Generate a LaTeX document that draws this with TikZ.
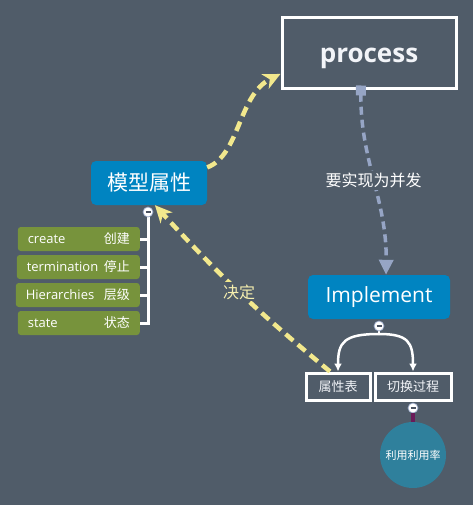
\documentclass[tikz,border=0pt]{standalone}
\usepackage{fontspec}
\setmainfont{Open Sans}
\newfontfamily\cjk{Noto Sans CJK SC}
\usetikzlibrary{arrows.meta,positioning,calc}
\definecolor{bg}{HTML}{505C69}
\definecolor{topic}{HTML}{0084C1}
\definecolor{leaf}{HTML}{77933C}
\definecolor{rate}{HTML}{2F809C}
\definecolor{ylw}{HTML}{F2E88D}
\definecolor{slate}{HTML}{96A5C5}
\definecolor{plum}{HTML}{6A1B5A}
\definecolor{txt}{HTML}{F2F4F8}

\begin{document}
\begin{tikzpicture}[x=1pt,y=-1pt,>=Latex,
  topicbox/.style={rounded corners=5pt,fill=topic,text=white,minimum height=44pt,inner sep=0pt},
  framebox/.style={draw=white,line width=3pt,text=txt,inner sep=0pt},
  itembox/.style={rounded corners=3pt,fill=leaf,text=white,minimum height=24pt,inner sep=0pt,anchor=east,font=\fontsize{13}{15}\selectfont},
  fold/.style={circle,draw=slate,fill=white,line width=.7pt,minimum size=10pt,inner sep=0pt},
  tree/.style={white,line width=3pt},
  ydash/.style={ylw,line width=4.5pt,dash pattern=on 10pt off 6pt},
  gdash/.style={slate,line width=3.5pt,dash pattern=on 8pt off 5pt}]
\fill[bg] (0,0) rectangle (473,505);
% main topics
\node[framebox,minimum width=174pt,minimum height=71pt,text depth=0pt,font=\fontsize{26}{30}\selectfont\bfseries] (proc) at (369,53.5) {\raisebox{-3pt}{process}};
\node[topicbox,minimum width=116pt,font=\cjk\fontsize{21}{24}\selectfont] (model) at (149,183) {模型属性};
\node[topicbox,minimum width=142pt,font=\fontsize{21}{24}\selectfont] (impl) at (379,297) {Implement};
% attribute list
\coordinate (c1) at (148,212);
\node[itembox,minimum width=122pt] (create) at (140,239) {\makebox[102pt]{create\hfill{\cjk 创建}}};
\node[itembox,minimum width=123pt] (term) at (140,267) {\makebox[103pt]{termination\hfill{\cjk 停止}}};
\node[itembox,minimum width=124pt] (hier) at (140,295) {\makebox[104pt]{Hierarchies\hfill{\cjk 层级}}};
\node[itembox,minimum width=122pt] (state) at (140,323) {\makebox[102pt]{state\hfill{\cjk 状态}}};
\foreach \n in {create,term,hier,state}{\draw[tree] (\n.east) -| (c1);}
\node[fold] (f1) at (c1) {\textcolor{slate!50!black}{\rule{5pt}{1.4pt}}};
% implement subtopics
\coordinate (c2) at (379,326);
\coordinate (split) at (379,334);
\node[framebox,minimum width=64pt,minimum height=27pt,font=\cjk\fontsize{13}{15}\selectfont] (attr) at (338,386.5) {属性表};
\node[framebox,minimum width=76pt,minimum height=27pt,font=\cjk\fontsize{13}{15}\selectfont] (switch) at (413,386.5) {切换过程};
\draw[white,line width=2.5pt,-{Latex[length=8pt,width=8pt]}] (split) .. controls (344,334) and (338,342) .. (attr.north);
\draw[white,line width=2.5pt,-{Latex[length=8pt,width=8pt]}] (split) .. controls (408,334) and (413,342) .. (switch.north);
\draw[white,line width=2.5pt] (c2) -- (split);
\node[fold] (f2) at (c2) {\textcolor{slate!50!black}{\rule{5pt}{1.4pt}}};
\node[circle,fill=rate,minimum size=66pt,inner sep=0pt,text=white,font=\cjk\fontsize{11}{13}\selectfont] (rate) at (413,455) {利用利用率};
\node[fold] (f3) at (413,408) {\textcolor{slate!50!black}{\rule{5pt}{1.4pt}}};
\draw[plum,line width=4pt] (f3.south) -- (rate.north);
% relations
\draw[ydash,-{Stealth[length=17pt,width=16pt,inset=5pt]}] (model.15) .. controls (240,155) and (238,95) .. (proc.193);
\draw[ydash,-{Stealth[length=17pt,width=16pt,inset=5pt]}] ($(attr.north)+(-8,0)$) to[bend left=4] node[fill=bg,text=ylw!70!white,inner sep=2pt,font=\cjk\fontsize{16}{18}\selectfont] {决定} (model.-75);
\draw[gdash,{Square[length=10pt,width=10pt]}-{Triangle[length=15pt,width=14pt]}] ($(proc.south)+(-8,-5)$) .. controls (360,160) and (387,200) .. node[fill=bg,text=white,inner sep=2pt,font=\cjk\fontsize{16}{18}\selectfont] {要实现为并发} ($(impl.north)+(7,0)$);
\end{tikzpicture}
\end{document}
